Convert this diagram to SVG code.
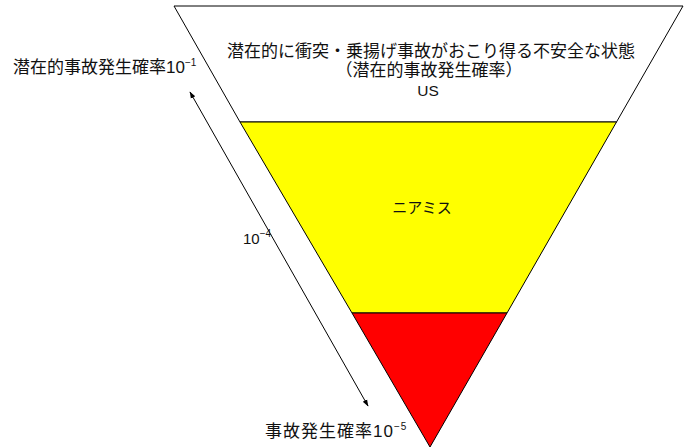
<svg xmlns="http://www.w3.org/2000/svg" width="684" height="448" viewBox="0 0 684 448">
<defs>
<style>
.t{font-family:"Liberation Sans","Noto Sans CJK JP",sans-serif;fill:#111;}
.edge{stroke:#000;stroke-width:1;}
</style>
<marker id="ah" viewBox="0 0 10 10" refX="9" refY="5" markerWidth="7" markerHeight="7" orient="auto-start-reverse" markerUnits="userSpaceOnUse">
<path d="M0,1.5 L10,5 L0,8.5 z" fill="#000"/>
</marker>
</defs>
<rect width="684" height="448" fill="#fff"/>
<g id="us">
<polygon class="edge" points="174,6 683,6 616.5,122 240,122" fill="#fff"/>
<text class="t" x="431" y="57" font-size="17" text-anchor="middle">潜在的に衝突・乗揚げ事故がおこり得る不安全な状態</text>
<text class="t" x="429" y="76" font-size="17" text-anchor="middle">（潜在的事故発生確率）</text>
<text class="t" x="428" y="96" font-size="15.5" text-anchor="middle">US</text>
</g>
<g id="nearmiss">
<polygon class="edge" points="240,122 616.5,122 507,313 352,313" fill="#ffff00"/>
<text class="t" x="422" y="213" font-size="15" text-anchor="middle">ニアミス</text>
</g>
<g id="accident">
<polygon class="edge" points="352,313 507,313 430,447" fill="#ff0000"/>
</g>
<g id="connectors">
<line class="edge" x1="190" y1="92" x2="368" y2="406" marker-start="url(#ah)" marker-end="url(#ah)"/>
</g>
<g id="labels">
<text class="t" x="13" y="73" font-size="17">潜在的事故発生確率10<tspan font-size="10" dy="-7">−1</tspan></text>
<text class="t" x="243" y="244" font-size="15">10<tspan font-size="10" dy="-7">−4</tspan></text>
<text class="t" x="265" y="437" font-size="17" letter-spacing="1">事故発生確率10<tspan font-size="10" dy="-7">−5</tspan></text>
</g>
</svg>
